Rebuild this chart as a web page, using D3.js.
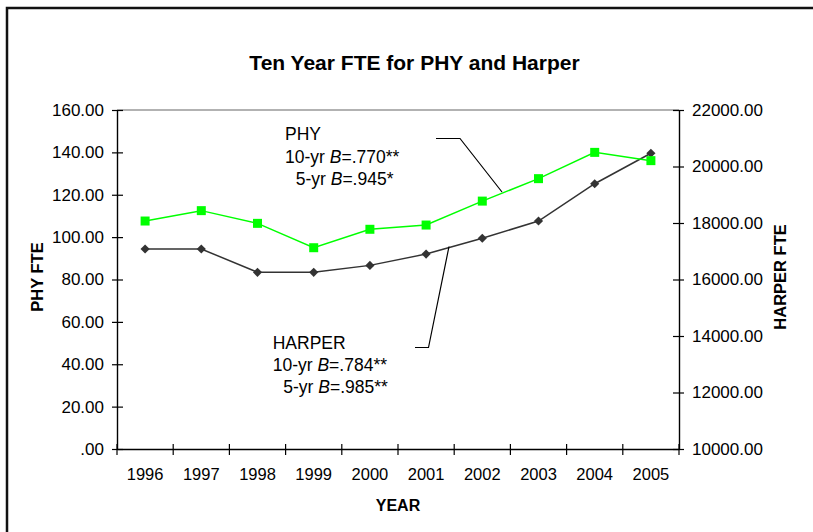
<!DOCTYPE html>
<html>
<head>
<meta charset="utf-8">
<script src="https://cdn.jsdelivr.net/npm/d3@7"></script>
<style>
  html, body { margin: 0; background: #fff; overflow: hidden; }
  svg { display: block; overflow: hidden; font-family: "Liberation Sans", Arial, sans-serif; }
</style>
</head>
<body>
<div id="chart"></div>
<script>
const years = ["1996", "1997", "1998", "1999", "2000", "2001", "2002", "2003", "2004", "2005"];
const phyFte = [107.6, 112.5, 106.5, 95.0, 103.7, 105.7, 117.0, 127.6, 140.0, 136.1];
const harperFte = [17080, 17080, 16255, 16255, 16500, 16900, 17460, 18070, 19390, 20470];
const leftTicks = [0, 20, 40, 60, 80, 100, 120, 140, 160];
const rightTicks = [10000, 12000, 14000, 16000, 18000, 20000, 22000];

const W = 813, H = 532;
const plot = { left: 117, right: 679, top: 110, bottom: 449 };

const svg = d3.select("#chart")
    .append("svg")
    .attr("width", W)
    .attr("height", H);

// outer frame (runs off the right and bottom of the picture)
svg.append("path")
    .attr("d", `M7,${H + 5}V8H${W + 5}`)
    .attr("fill", "none")
    .attr("stroke", "#111")
    .attr("stroke-width", 2.5);

const x = d3.scaleBand()
    .domain(years)
    .range([plot.left, plot.right]);

const yL = d3.scaleLinear()
    .domain([0, 160])
    .range([plot.bottom, plot.top]);

const yR = d3.scaleLinear()
    .domain([10000, 22000])
    .range([plot.bottom, plot.top]);

const fmtL = d => { const s = d3.format(".2f")(d); return s.startsWith("0.") ? s.slice(1) : s; };

// top border of the plot area
svg.append("line")
    .attr("x1", plot.left).attr("x2", plot.right)
    .attr("y1", plot.top).attr("y2", plot.top)
    .attr("stroke", "#999")
    .attr("stroke-width", 1.5);

// left axis
const gL = svg.append("g")
    .attr("transform", `translate(${plot.left},0)`)
    .call(d3.axisLeft(yL).tickValues(leftTicks).tickFormat(fmtL).tickSize(5).tickPadding(8).tickSizeOuter(0));
gL.selectAll(".tick line").attr("x1", 6);

// right axis
const gR = svg.append("g")
    .attr("transform", `translate(${plot.right},0)`)
    .call(d3.axisRight(yR).tickValues(rightTicks).tickFormat(d3.format(".2f")).tickSize(5).tickPadding(8).tickSizeOuter(0));
gR.selectAll(".tick line").attr("x1", -6);

// bottom axis: labels at category centres, ticks at category boundaries
const gB = svg.append("g")
    .attr("transform", `translate(0,${plot.bottom})`)
    .call(d3.axisBottom(x).tickSize(0).tickPadding(19).tickSizeOuter(0));

const bounds = years.map(d => x(d)).concat([x.range()[1]]);
svg.append("g")
    .selectAll("line")
    .data(bounds)
    .join("line")
    .attr("x1", d => d).attr("x2", d => d)
    .attr("y1", plot.bottom - 5).attr("y2", plot.bottom + 6)
    .attr("stroke", "#000")
    .attr("stroke-width", 1.2);

[gL, gR, gB].forEach(g => {
    g.selectAll("path.domain").attr("stroke", "#000").attr("stroke-width", 1.4);
    g.selectAll(".tick line").attr("stroke", "#000").attr("stroke-width", 1.2);
    g.selectAll("text").attr("font-size", g === gB ? 16.5 : 17).attr("fill", "#000")
        .attr("font-family", "'Liberation Sans', Arial, sans-serif");
});

// lines
const cx = d => x(d) + x.bandwidth() / 2;

svg.append("path")
    .datum(years.map((d, i) => [cx(d), yR(harperFte[i])]))
    .attr("fill", "none")
    .attr("stroke", "#333")
    .attr("stroke-width", 1.5)
    .attr("d", d3.line());

svg.append("path")
    .datum(years.map((d, i) => [cx(d), yL(phyFte[i])]))
    .attr("fill", "none")
    .attr("stroke", "#00ff00")
    .attr("stroke-width", 1.5)
    .attr("d", d3.line());

// markers
svg.append("g")
    .selectAll("path")
    .data(years)
    .join("path")
    .attr("transform", (d, i) => `translate(${cx(d)},${yR(harperFte[i])}) rotate(45)`)
    .attr("d", d3.symbol(d3.symbolSquare, 42))
    .attr("fill", "#333");

svg.append("g")
    .selectAll("path")
    .data(years)
    .join("path")
    .attr("transform", (d, i) => `translate(${cx(d)},${yL(phyFte[i])})`)
    .attr("d", d3.symbol(d3.symbolSquare, 81))
    .attr("fill", "#00ff00");

// annotation leaders
const leader = d3.line();
svg.append("path")
    .attr("d", leader([[436, 138.5], [460, 138.5], [502, 192]]))
    .attr("fill", "none").attr("stroke", "#000").attr("stroke-width", 1.2);
svg.append("path")
    .attr("d", leader([[415, 347.5], [428.5, 347.5], [449, 246.5]]))
    .attr("fill", "none").attr("stroke", "#000").attr("stroke-width", 1.2);

// annotation texts
function note(lines, x0, y0, gap) {
    const t = svg.append("text").attr("font-size", 17.5).attr("fill", "#000");
    lines.forEach((ln, i) => {
        const row = t.append("tspan").attr("x", x0 + ln.indent).attr("y", y0 + i * gap);
        row.text(ln.pre);
        if (ln.b) {
            row.append("tspan").attr("font-style", "italic").text("B");
            row.append("tspan").text(ln.post);
        }
    });
}
note([
    { indent: 0, pre: "PHY" },
    { indent: 0, pre: "10-yr ", b: true, post: "=.770**" },
    { indent: 10.7, pre: "5-yr ", b: true, post: "=.945*" }
], 285, 140, 22.5);
note([
    { indent: 0, pre: "HARPER" },
    { indent: 0, pre: "10-yr ", b: true, post: "=.784**" },
    { indent: 10.6, pre: "5-yr ", b: true, post: "=.985**" }
], 272.7, 349, 22);

// titles
svg.append("text")
    .attr("x", 414.5).attr("y", 70)
    .attr("text-anchor", "middle")
    .attr("font-size", 21).attr("font-weight", "bold")
    .text("Ten Year FTE for PHY and Harper");

svg.append("text")
    .attr("x", 398).attr("y", 511)
    .attr("text-anchor", "middle")
    .attr("font-size", 16).attr("font-weight", "bold")
    .text("YEAR");

svg.append("text")
    .attr("transform", "translate(43,277) rotate(-90)")
    .attr("text-anchor", "middle")
    .attr("font-size", 16.5).attr("font-weight", "bold")
    .text("PHY FTE");

svg.append("text")
    .attr("transform", "translate(786,277) rotate(-90)")
    .attr("text-anchor", "middle")
    .attr("font-size", 16.5).attr("font-weight", "bold")
    .text("HARPER FTE");
</script>
</body>
</html>
